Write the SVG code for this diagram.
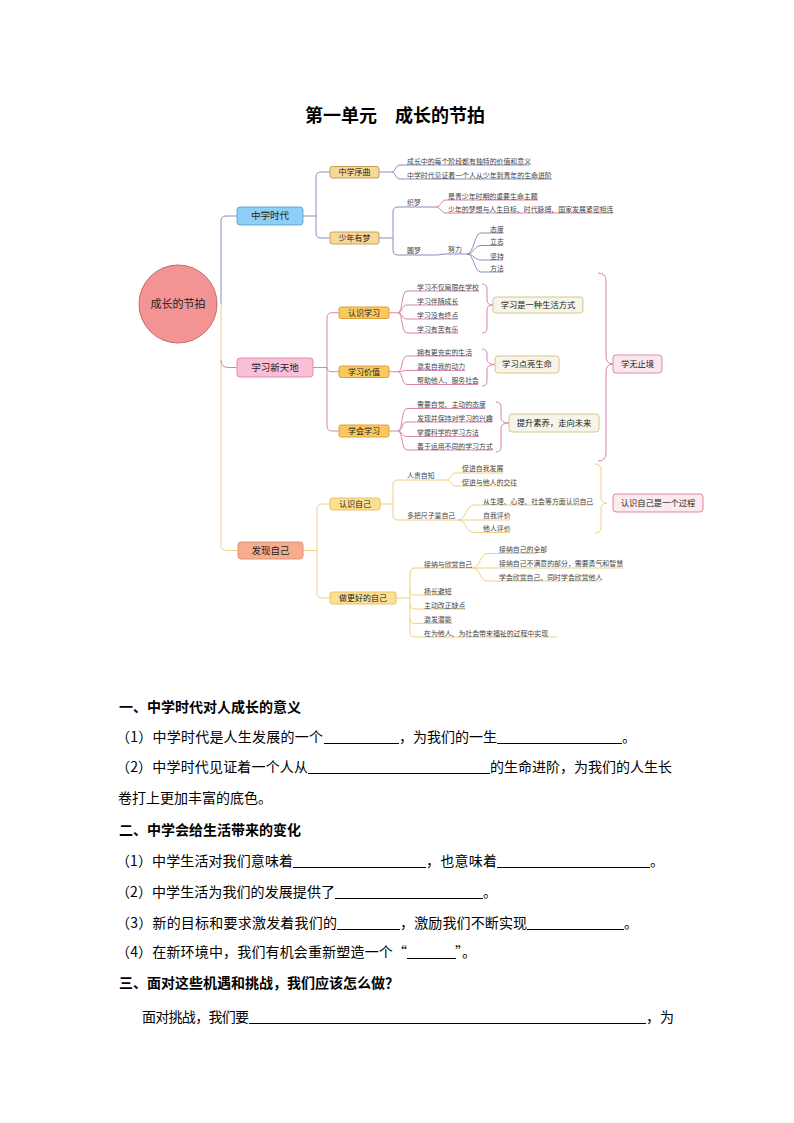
<svg xmlns="http://www.w3.org/2000/svg" width="794" height="1123" viewBox="0 0 794 1123">
<style>
text{font-family:"Noto Sans CJK SC","Noto Sans",sans-serif}
.lf{font-size:6.9px;fill:#444}
.nt{fill:#222;text-anchor:middle}
.c1{fill:none;stroke:#8a8fbb;stroke-width:1}
.c1p{fill:none;stroke:#e2809f;stroke-width:1}
.c2{fill:none;stroke:#d887aa;stroke-width:1}
.c3{fill:none;stroke:#efd084;stroke-width:1}
.body{font-size:14px;fill:#000}
.hd{font-size:14px;fill:#000;font-weight:bold}
.ul{stroke:#000;stroke-width:1}
</style>
<rect width="794" height="1123" fill="#fff"/>
<text x="305" y="122" style="font-size:18px;font-weight:bold" fill="#000">第一单元　成长的节拍</text>

<g id="connectors">
<path class="c1" d="M221,304 V221 Q221,216 226,216 H237"/>
<path class="c1" d="M303,216 H316 M316,216 V177 Q316,172 321,172 H330 M316,216 V233 Q316,238 321,238 H330"/>
<path class="c1" d="M379,172 H392 M392,172 C396,172 395,165 400,165 H530 M392,172 C396,172 395,179 400,179 H552"/>
<path class="c1" d="M379,238 H393 M393,238 V212 Q393,207 398,207 H436 M393,238 V250 Q393,255 398,255 H436"/>
<path class="c1" d="M436,255 C441,255 441,254 446,254 H467"/>
<path class="c1" d="M467,254 C474,254 474,233 481,233 H503 M467,254 C474,254 474,245.5 481,245.5 H503 M467,254 C474,254 474,260 481,260 H503 M467,254 C474,254 474,272 481,272 H503"/>
<path class="c1p" d="M436,207 C441,207 441,200 446,200 H538 M436,207 C441,207 441,213 446,213 H613"/>

<path class="c3" d="M221,304 V545 Q221,550.5 227,550.5 H238"/>
<path class="c2" d="M221,360 Q221,367.5 228,367.5 H237"/>
<path class="c2" d="M313,367.5 H327 M327,367.5 V318 Q327,312.75 332,312.75 H339 M327,367.5 Q327,371.75 332,371.75 H339 M327,367.5 V426 Q327,431 332,431 H339"/>
<path class="c2" d="M389,312.75 H398 M398,312.75 C403,312.75 401,291 407,291 H479 M398,312.75 C403,312.75 401,305 407,305 H458 M398,312.75 C403,312.75 401,319 407,319 H458 M398,312.75 C403,312.75 401,333 407,333 H458"/>
<path class="c2" d="M389,371.75 H398 M398,371.75 C403,371.75 401,356 407,356 H472 M398,371.75 C403,371.75 401,370.5 407,370.5 H465 M398,371.75 C403,371.75 401,384.5 407,384.5 H478"/>
<path class="c2" d="M389,431 H398 M398,431 C403,431 401,408.5 407,408.5 H485 M398,431 C403,431 401,422 407,422 H492 M398,431 C403,431 401,436.5 407,436.5 H479 M398,431 C403,431 401,450 407,450 H492"/>
<path class="c2" d="M482,284 Q487,284 487,289 V300 Q487,305 493,305 Q487,305 487,310 V328 Q487,333 482,333"/>
<path class="c2" d="M482,349 Q487,349 487,354 V359.5 Q487,364.5 495,364.5 Q487,364.5 487,369.5 V381 Q487,386 482,386"/>
<path class="c2" d="M496,402 Q501,402 501,407 V418 Q501,423 509,423 Q501,423 501,428 V447 Q501,452 496,452"/>
<path class="c2" d="M598,273 Q606,273 606,281 V356 Q606,364 613,364 Q606,364 606,372 V453 Q606,461 598,461"/>

<path class="c3" d="M303,550.5 H317 M317,550.5 V509 Q317,504 322,504 H330 M317,550.5 V593 Q317,598 322,598 H330"/>
<path class="c3" d="M380,504 H393 M393,504 V485 Q393,480 398,480 H446 M393,504 V515 Q393,520 398,520 H458"/>
<path class="c3" d="M446,480 C451,480 451,473 456,473 H503 M446,480 C451,480 451,486 456,486 H517"/>
<path class="c3" d="M458,520 C466,520 466,505 474,505 H593 M458,520 H510 M458,520 C466,520 466,532.5 474,532.5 H510"/>
<path class="c3" d="M595,464 Q601,464 601,470 V497 Q601,503 607,503 Q601,503 601,509 V527 Q601,533 595,533"/>
<path class="c3" d="M396,598 H410 M410,573 V632 M410,573 Q410,568 415,568 H473 M410,590 Q410,595 415,595 H452 M410,604 Q410,609 415,609 H465 M410,618.5 Q410,623.5 415,623.5 H452 M410,632 Q410,637 415,637 H557"/>
<path class="c3" d="M473,568 C480,568 480,553.5 487,553.5 H537 M473,568 H623 M473,568 C480,568 480,581 487,581 H602"/>
</g>

<g id="n-root"><circle cx="178" cy="304" r="39" fill="#f39393" stroke="#c06a6a" stroke-width="1"/><text class="nt" x="178" y="308" style="font-size:11px">成长的节拍</text></g>

<g id="n-zxsd"><rect x="237" y="207" width="66" height="18" rx="3" fill="#90cff5" stroke="#63a7d6"/><text class="nt" x="270" y="219.3" style="font-size:9.5px">中学时代</text></g>
<g id="n-zxxq"><rect x="330" y="166.5" width="49" height="11.5" rx="2" fill="#f8d898" stroke="#c9a154"/><text class="nt" x="354.5" y="175" style="font-size:8px">中学序曲</text></g>
<g id="n-snym"><rect x="330" y="232" width="49" height="12" rx="2" fill="#f8d898" stroke="#c9a154"/><text class="nt" x="354.5" y="240.8" style="font-size:8px">少年有梦</text></g>
<g id="l-zxsd" class="lf">
<text x="407" y="163.5">成长中的每个阶段都有独特的价值和意义</text>
<text x="407" y="177.5">中学时代见证着一个人从少年到青年的生命进阶</text>
<text x="407" y="205">织梦</text>
<text x="407" y="253">圆梦</text>
<text x="448" y="198.5">是青少年时期的重要生命主题</text>
<text x="448" y="211.5">少年的梦想与人生目标、时代脉搏、国家发展紧密相连</text>
<text x="448" y="252">努力</text>
<text x="490" y="231.5">态度</text>
<text x="490" y="244">立志</text>
<text x="490" y="258.5">坚持</text>
<text x="490" y="270.5">方法</text>
</g>

<g id="n-xxxtd"><rect x="237" y="358" width="76" height="19" rx="3" fill="#f9bfd6" stroke="#e08cb0"/><text class="nt" x="275" y="370.8" style="font-size:9.5px">学习新天地</text></g>
<g id="n-rsxx"><rect x="339" y="307" width="50" height="11.5" rx="2" fill="#f9c95f" stroke="#e0a03a"/><text class="nt" x="364" y="315.5" style="font-size:8px">认识学习</text></g>
<g id="n-xxjz"><rect x="339" y="366" width="50" height="11.5" rx="2" fill="#f9c95f" stroke="#e0a03a"/><text class="nt" x="364" y="374.5" style="font-size:8px">学习价值</text></g>
<g id="n-xhxx"><rect x="339" y="425" width="50" height="12" rx="2" fill="#f9c95f" stroke="#e0a03a"/><text class="nt" x="364" y="433.8" style="font-size:8px">学会学习</text></g>
<g id="l-xxxtd" class="lf">
<text x="417" y="289.5">学习不仅局限在学校</text>
<text x="417" y="303.5">学习伴随成长</text>
<text x="417" y="317.5">学习没有终点</text>
<text x="417" y="331.5">学习有苦有乐</text>
<text x="417" y="354.5">拥有更充实的生活</text>
<text x="417" y="369">激发自我的动力</text>
<text x="417" y="383">帮助他人，服务社会</text>
<text x="417" y="407">需要自觉、主动的态度</text>
<text x="417" y="420.5">发现并保持对学习的兴趣</text>
<text x="417" y="435">掌握科学的学习方法</text>
<text x="417" y="448.5">善于运用不同的学习方式</text>
</g>
<g id="n-shfs"><rect x="493" y="297" width="90" height="16" rx="3" fill="#f7f5e9" stroke="#d6c78a"/><text class="nt" x="538" y="308" style="font-size:8.3px">学习是一种生活方式</text></g>
<g id="n-ldsm"><rect x="495" y="356" width="64" height="17" rx="3" fill="#f7f5e9" stroke="#d6c78a"/><text class="nt" x="527" y="367.4" style="font-size:8.3px">学习点亮生命</text></g>
<g id="n-tsss"><rect x="509" y="414" width="90" height="18" rx="3" fill="#f7f5e9" stroke="#d6c78a"/><text class="nt" x="554" y="426" style="font-size:8.3px">提升素养，走向未来</text></g>
<g id="n-xwzj"><rect x="613" y="355" width="49" height="18" rx="3" fill="#fce6ee" stroke="#d98ca8"/><text class="nt" x="637.5" y="367" style="font-size:8.3px">学无止境</text></g>

<g id="n-fxzj"><rect x="238" y="542" width="65" height="17" rx="3" fill="#f6ad8e" stroke="#e29272"/><text class="nt" x="270.5" y="553.8" style="font-size:9.5px">发现自己</text></g>
<g id="n-rszj"><rect x="330" y="498" width="50" height="12" rx="2" fill="#fbe092" stroke="#e6c565"/><text class="nt" x="355" y="506.8" style="font-size:8px">认识自己</text></g>
<g id="n-zghdzj"><rect x="330" y="592" width="66" height="12" rx="2" fill="#fbe092" stroke="#e6c565"/><text class="nt" x="363" y="600.8" style="font-size:8px">做更好的自己</text></g>
<g id="l-fxzj" class="lf">
<text x="407" y="478">人贵自知</text>
<text x="407" y="518">多把尺子量自己</text>
<text x="462" y="471">促进自我发展</text>
<text x="462" y="484.5">促进与他人的交往</text>
<text x="483" y="503.5">从生理、心理、社会等方面认识自己</text>
<text x="483" y="517.5">自我评价</text>
<text x="483" y="531">他人评价</text>
<text x="424" y="566.5">接纳与欣赏自己</text>
<text x="499" y="552">接纳自己的全部</text>
<text x="499" y="566">接纳自己不满意的部分，需要勇气和智慧</text>
<text x="499" y="579.5">学会欣赏自己，同时学会欣赏他人</text>
<text x="424" y="593.5">扬长避短</text>
<text x="424" y="607.5">主动改正缺点</text>
<text x="424" y="622">激发潜能</text>
<text x="424" y="635.5">在为他人、为社会带来福祉的过程中实现</text>
</g>
<g id="n-gc"><rect x="613" y="494" width="90" height="18" rx="3" fill="#fceaee" stroke="#d9899a"/><text class="nt" x="658" y="506" style="font-size:8.3px">认识自己是一个过程</text></g>

<g id="worksheet">
<text class="hd" x="119" y="712">一、中学时代对人成长的意义</text>
<text class="body" x="116" y="742" textLength="207" lengthAdjust="spacing">（1）中学时代是人生发展的一个</text>
<line class="ul" x1="324" y1="743.5" x2="399" y2="743.5"/>
<text class="body" x="399" y="742" textLength="98" lengthAdjust="spacing">，为我们的一生</text>
<line class="ul" x1="497" y1="743.5" x2="622" y2="743.5"/>
<text class="body" x="622" y="742">。</text>

<text class="body" x="116" y="772" textLength="192" lengthAdjust="spacing">（2）中学时代见证着一个人从</text>
<line class="ul" x1="308" y1="773.5" x2="490" y2="773.5"/>
<text class="body" x="490" y="772" textLength="182" lengthAdjust="spacing">的生命进阶，为我们的人生长</text>
<text class="body" x="118" y="803">卷打上更加丰富的底色。</text>

<text class="hd" x="119" y="835">二、中学会给生活带来的变化</text>
<text class="body" x="116" y="866" textLength="177" lengthAdjust="spacing">（1）中学生活对我们意味着</text>
<line class="ul" x1="293" y1="867.5" x2="426" y2="867.5"/>
<text class="body" x="426" y="866" textLength="71" lengthAdjust="spacing">，也意味着</text>
<line class="ul" x1="497" y1="867.5" x2="650" y2="867.5"/>
<text class="body" x="650" y="866">。</text>

<text class="body" x="116" y="897" textLength="219" lengthAdjust="spacing">（2）中学生活为我们的发展提供了</text>
<line class="ul" x1="335" y1="898.5" x2="483" y2="898.5"/>
<text class="body" x="483" y="897">。</text>

<text class="body" x="116" y="928" textLength="221" lengthAdjust="spacing">（3）新的目标和要求激发着我们的</text>
<line class="ul" x1="337" y1="929.5" x2="400" y2="929.5"/>
<text class="body" x="400" y="928" textLength="127" lengthAdjust="spacing">，激励我们不断实现</text>
<line class="ul" x1="527" y1="929.5" x2="624" y2="929.5"/>
<text class="body" x="624" y="928">。</text>

<text class="body" x="116" y="957" textLength="291" lengthAdjust="spacing">（4）在新环境中，我们有机会重新塑造一个“</text>
<line class="ul" x1="407" y1="958.5" x2="456" y2="958.5"/>
<text class="body" x="455" y="957">”。</text>

<text class="hd" x="119" y="988">三、面对这些机遇和挑战，我们应该怎么做？</text>
<text class="body" x="142" y="1022" textLength="107" lengthAdjust="spacing">面对挑战，我们要</text>
<line class="ul" x1="249" y1="1023.5" x2="646" y2="1023.5"/>
<text class="body" x="646" y="1022">，为</text>
</g>
</svg>
